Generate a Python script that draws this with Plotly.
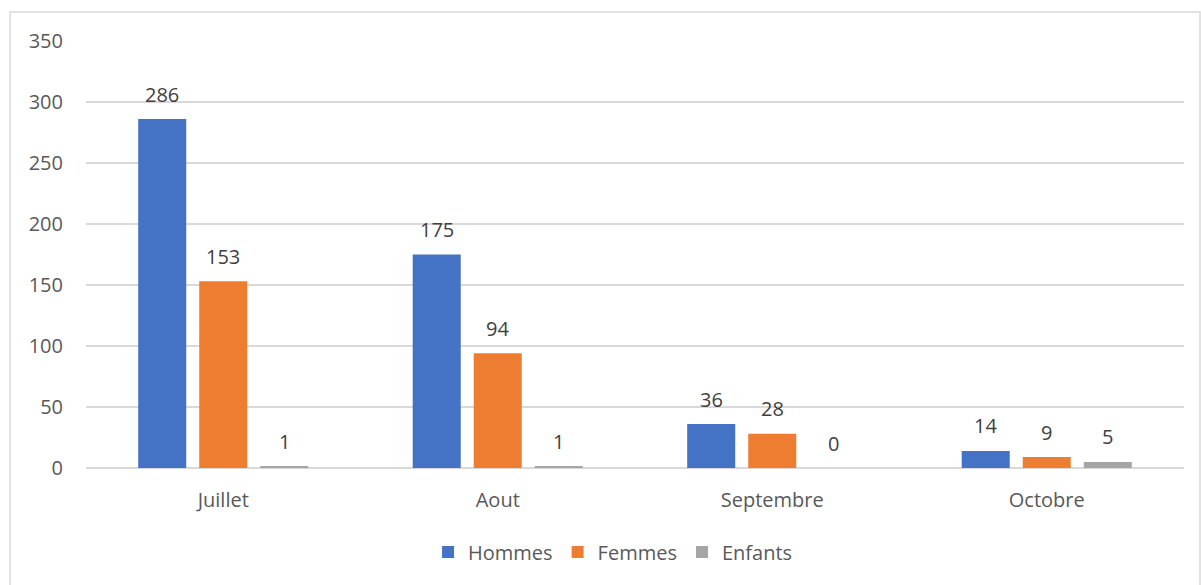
import plotly.graph_objects as go

categories = ["Juillet", "Aout", "Septembre", "Octobre"]
hommes = [286, 175, 36, 14]
femmes = [153, 94, 28, 9]
enfants = [1, 1, 0, 5]
series_names = ["Hommes", "Femmes", "Enfants"]
colors = ["#4472C4", "#ED7D31", "#A5A5A5"]
y_ticks = [0, 50, 100, 150, 200, 250, 300, 350]

FONT = "Open Sans"
FS = 20
fig = go.Figure()
all_series = [hommes, femmes, enfants]
for name, vals, col in zip(series_names, all_series, colors):
    fig.add_trace(go.Bar(x=categories, y=vals, name=name, marker_color=col,
                         marker_line_width=0))

# data labels as annotations above bars
offsets = [-61, 0, 61]
for vals, off in zip(all_series, offsets):
    for c, v in zip(categories, vals):
        fig.add_annotation(x=c, y=v, text=str(v), showarrow=False, xshift=off,
                           yshift=25, yanchor="middle",
                           font=dict(family=FONT, size=FS, color="#404040"))

fig.add_shape(type="rect", xref="paper", yref="paper",
              x0=(10 - 86) / 1098, x1=(1200 - 86) / 1098,
              y0=-0.5, y1=1 + (41 - 12) / 427,
              line=dict(color="#D9D9D9", width=1.5), fillcolor="rgba(0,0,0,0)", layer="below")

fig.update_layout(
    width=1201, height=585,
    margin=dict(l=86, r=17, t=41, b=117),
    paper_bgcolor="white", plot_bgcolor="white",
    barmode="group", bargap=0.333, bargroupgap=0.213,
    font=dict(family=FONT, size=FS, color="#595959"),
    showlegend=True,
    legend=dict(orientation="h", x=0.48, xanchor="center", y=(468 - 552) / 427,
                yanchor="middle", font=dict(family=FONT, size=FS, color="#595959"),
                itemwidth=30, traceorder="normal"),
    xaxis=dict(showgrid=False, showline=False, ticks="", ticklabelstandoff=18,
               tickfont=dict(family=FONT, size=FS, color="#595959")),
    yaxis=dict(range=[0, 350], tickvals=y_ticks, showgrid=True, gridcolor="#D9D9D9",
               gridwidth=1.5, zeroline=True, zerolinecolor="#D9D9D9", zerolinewidth=1.5,
               showline=False, ticks="", ticklabelstandoff=22,
               tickfont=dict(family=FONT, size=FS, color="#595959")),
)

fig.write_html("out.html")
